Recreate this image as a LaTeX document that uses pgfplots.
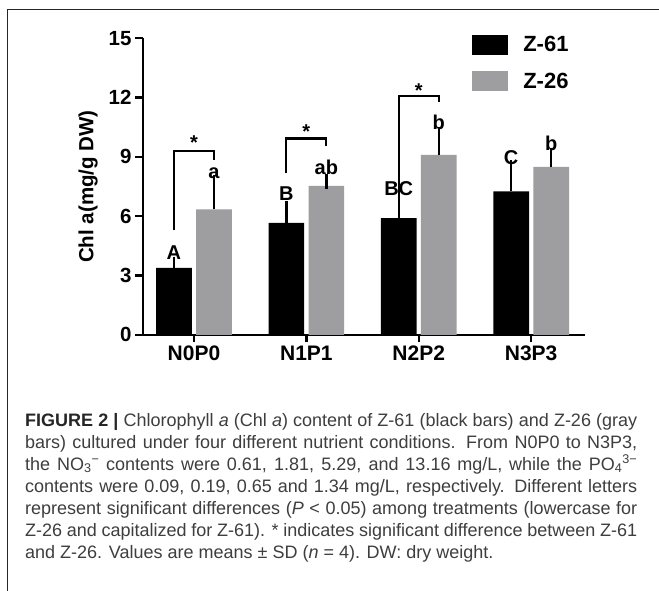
\documentclass[border=0pt]{standalone}
\usepackage{fontspec}
\setmainfont{Liberation Sans}
\usepackage{pgfplots}
\pgfplotsset{compat=1.18}
\definecolor{barg}{RGB}{158,158,160}
\definecolor{captxt}{RGB}{62,62,62}
\begin{document}
\begin{tikzpicture}[x=1pt,y=1pt]
\path[use as bounding box, fill=white] (0,0) rectangle (659,591);
\draw[line width=1.2pt, black!85] (7.3,-2) -- (7.3,581.7) -- (662,581.7);
\begin{axis}[
  at={(142.7pt,256.2pt)}, anchor=south west,
  scale only axis, width=442.3pt, height=296.5pt,
  ymin=0, ymax=15, ytick={0,3,6,9,12,15},
  xmin=-0.456, xmax=3.479,
  xtick={0,1,2,3}, xticklabels={N0P0,N1P1,N2P2,N3P3},
  axis x line=bottom, axis y line=left,
  axis line style={line width=2.3pt, -},
  every outer x axis line/.append style={-},
  every outer y axis line/.append style={-},
  tick style={line width=2.3pt, black},
  major tick length=7.7pt, tick align=outside,
  /pgf/number format/assume math mode=true,
  yticklabel style={font=\bfseries\fontsize{20.5pt}{20.5pt}\selectfont},
  xticklabel style={font=\bfseries\fontsize{21pt}{21pt}\selectfont},
  ylabel={Chl a(mg/g DW)},
  every axis y label/.style={at={(axis description cs:-0.12367,0.5)}, rotate=90, anchor=center,
    font=\bfseries\fontsize{20.5pt}{20.5pt}\selectfont},
  ybar=4.3pt, bar width=35.7pt,
  error bars/y dir=plus, error bars/y explicit,
  error bars/error bar style={draw=black, line width=2.5pt, solid},
  error bars/error mark options={draw=black, line width=2.5pt, mark size=7.5pt},
  legend image code/.code={\fill[#1] (0pt,-10pt) rectangle (36pt,10pt);},
  legend style={draw=none, fill=none, at={(rel axis cs:0.7452,1.0111)}, anchor=north west,
    inner sep=0pt, outer sep=0pt, row sep=16.2pt,
    nodes={inner sep=0pt, outer sep=0pt},
    font=\bfseries\fontsize{22pt}{22pt}\selectfont,
    /tikz/every odd column/.append style={column sep=15pt}},
  legend cell align=left,
  clip=false,
]
\addplot[fill=black, draw=none] coordinates {(0,3.38) +- (0,0.19) (1,5.66) +- (0,0.72) (2,5.9) +- (0,0.85) (3,7.25) +- (0,1.2)};
\addplot[fill=barg, draw=none] coordinates {(0,6.35) +- (0,1.33) (1,7.53) +- (0,0.2) (2,9.1) +- (0,1.03) (3,8.5) +- (0,0.59)};
\legend{Z-61, Z-26}
% brackets
\draw[line width=2.2pt] (axis cs:-0.178,5.32) -- (axis cs:-0.178,9.3) -- (axis cs:0.178,9.3) -- (axis cs:0.178,8.84);
\draw[line width=2.2pt] (axis cs:0.822,8.17) -- (axis cs:0.822,9.93) -- (axis cs:1.178,9.93) -- (axis cs:1.178,9.54);
\draw[line width=2.2pt] (axis cs:1.822,6.91) -- (axis cs:1.822,12.1) -- (axis cs:2.178,12.1) -- (axis cs:2.178,11.77);
\begin{scope}[every node/.style={anchor=base, inner sep=0pt, font=\bfseries\fontsize{20pt}{20pt}\selectfont}]
\node at (axis cs:0,9.39) {*};
\node at (axis cs:1,9.92) {*};
\node at (axis cs:2,12.02) {*};
\node at (axis cs:-0.178,3.81) {A};
\node at (axis cs:0.178,7.93) {a};
\node at (axis cs:0.822,6.79) {B};
\node at (axis cs:1.178,8.12) {ab};
\node at (axis cs:1.822,7.04) {BC};
\node at (axis cs:2.178,10.39) {b};
\node at (axis cs:2.822,8.62) {C};
\node at (axis cs:3.178,9.33) {b};
\end{scope}
\end{axis}
\node[anchor=north west, inner sep=0pt, align=left, text=captxt, font=\fontsize{18pt}{22pt}\selectfont] at (25,178.2) {%
\makebox[612pt][s]{\textbf{\color{black!85}FIGURE 2 |} Chlorophyll \textit{a} (Chl \textit{a}) content of Z-61 (black bars) and Z-26 (gray}\\
\makebox[612pt][s]{bars) cultured under four different nutrient conditions. From N0P0 to N3P3,}\\
\makebox[612pt][s]{the NO\textsubscript{3}\textsuperscript{−} contents were 0.61, 1.81, 5.29, and 13.16 mg/L, while the PO\textsubscript{4}\textsuperscript{3−}}\\
\makebox[612pt][s]{contents were 0.09, 0.19, 0.65 and 1.34 mg/L, respectively. Different letters}\\
\makebox[612pt][s]{represent significant differences (\textit{P} < 0.05) among treatments (lowercase for}\\
\makebox[612pt][s]{Z-26 and capitalized for Z-61). * indicates significant difference between Z-61}\\
and Z-26. Values are means ± SD (\textit{n} = 4). DW: dry weight.};
\end{tikzpicture}
\end{document}
